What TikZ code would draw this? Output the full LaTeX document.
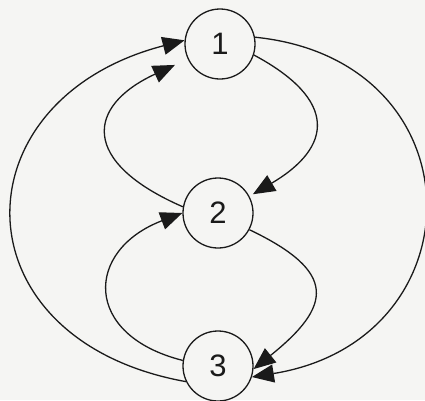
\documentclass[tikz,border=0pt]{standalone}
\usepackage{fontspec}
\setmainfont{Liberation Sans}
\usetikzlibrary{arrows.meta}
\definecolor{ink}{HTML}{1A1A1A}
\definecolor{paper}{HTML}{F5F5F3}
\begin{document}
\begin{tikzpicture}[x=1pt, y=-1pt,
  vertex/.style={circle, draw=ink, line width=1.3pt, fill=paper,
    minimum size=70pt, inner sep=0pt, text=ink,
    font=\fontsize{31}{31}\selectfont},
  edge/.style={draw=ink, line width=1.3pt,
    -{Triangle[length=22pt, width=18pt]}},
]
% page area
\useasboundingbox[fill=paper] (0,0) rectangle (425,400);

% vertices
\node[vertex] (n1) at (220,44)  {1};
\node[vertex] (n2) at (218,213) {2};
\node[vertex] (n3) at (218,366) {3};

% outer arcs
\draw[edge] (n3.206) .. controls (-45,340) and (-45,100) .. (n1.174);
\draw[edge] (n1.11)  .. controls (481,60) and (481,340) .. (n3.-18);

% upper loops between 1 and 2
\draw[edge, shorten >=4pt] (n1.-18) .. controls (338,100) and (333,147) .. (n2.28);
\draw[edge, shorten >=14pt] (n2.170) .. controls (80,162) and (86,106) .. (n1.205);

% lower loops between 2 and 3
\draw[edge] (n2.-28) .. controls (338,272) and (332,306) .. (n3.-5);
\draw[edge] (n3.171) .. controls (82,335) and (85,250) .. (n2.180);
\end{tikzpicture}
\end{document}
